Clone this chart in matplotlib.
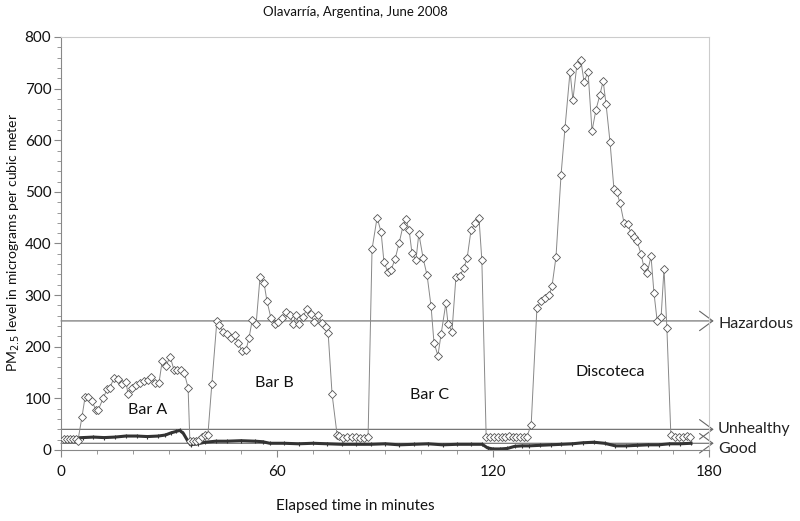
import matplotlib
matplotlib.use("Agg")
import matplotlib.pyplot as plt
from matplotlib.ticker import MultipleLocator

plt.rcParams['font.family'] = ['Lato', 'DejaVu Sans']

# Indoor PM2.5 readings (minutes, ug/m3)
indoor_t = [0.8, 1.7, 2.5, 3.3, 4.2, 4.7, 5.8, 6.7, 7.5, 8.6, 9.7, 10.3, 11.7, 12.8, 13.6, 14.7,
            15.8, 16.9, 18.1, 18.6, 19.7, 20.8, 21.9, 23.1, 24.2, 25.0, 26.1, 27.2, 28.1, 29.2,
            30.3, 31.4, 32.2, 33.3, 34.2, 35.3, 35.8, 36.7, 37.5, 38.3, 39.2, 40.0, 40.8, 41.9,
            43.3, 43.9, 45.0, 46.1, 47.2, 48.3, 49.2, 50.3, 51.4, 52.2, 53.1, 54.2, 55.3, 56.4,
            57.2, 58.3, 59.4, 60.3, 61.4, 62.5, 63.6, 64.4, 65.3, 66.1, 67.2, 68.3, 69.4, 70.3,
            71.4, 72.5, 73.6, 74.2, 75.3, 76.7, 77.2, 78.3, 79.4, 80.8, 81.9, 83.1, 84.2, 85.3,
            86.4, 87.8, 88.9, 89.7, 90.8, 91.7, 92.8, 93.9, 95.0, 95.8, 96.7, 97.5, 98.6, 99.4,
            100.6, 101.7, 102.8, 103.6, 104.7, 105.6, 106.9, 107.5, 108.6, 109.7, 110.8, 111.9,
            112.8, 113.9, 115.0, 116.1, 116.9, 118.1, 119.2, 120.3, 121.4, 122.5, 123.3, 124.4,
            125.6, 126.4, 127.5, 128.6, 129.4, 130.6, 132.2, 133.3, 134.4, 135.6, 136.4, 137.5,
            138.9, 140.0, 141.4, 142.2, 143.3, 144.4, 145.3, 146.4, 147.5, 148.6, 149.7, 150.6,
            151.4, 152.5, 153.6, 154.4, 155.3, 156.4, 157.5, 158.3, 159.2, 160.0, 161.1, 161.9,
            162.8, 163.9, 164.7, 165.6, 166.7, 167.5, 168.3, 169.4, 170.6, 171.7, 172.8, 173.9,
            174.7]
indoor_v = [21, 21, 21, 21, 21, 18, 63, 103, 102, 95, 77, 77, 100, 118, 121, 139,
            138, 127, 131, 108, 121, 126, 130, 134, 136, 141, 129, 129, 172, 163,
            181, 155, 155, 154, 150, 121, 17, 18, 17, 19, 25, 29, 29, 128,
            250, 242, 229, 225, 216, 222, 208, 191, 194, 216, 251, 244, 336, 323,
            289, 256, 244, 247, 255, 268, 262, 244, 262, 244, 258, 273, 263, 247,
            262, 246, 239, 227, 108, 29, 28, 24, 25, 26, 25, 23, 23, 26,
            389, 450, 423, 365, 344, 349, 370, 400, 434, 447, 426, 381, 368, 419,
            371, 338, 278, 208, 183, 225, 284, 245, 229, 335, 337, 353,
            371, 426, 439, 450, 368, 26, 26, 26, 26, 26, 26, 27,
            25, 25, 25, 26, 26, 48, 275, 289, 295, 300, 318, 374,
            533, 624, 733, 678, 746, 755, 713, 733, 618, 659, 688, 715,
            670, 597, 505, 499, 478, 440, 437, 420, 412, 405, 380, 355,
            342, 375, 305, 250, 258, 351, 236, 30, 26, 25, 26, 27,
            25]

# Reference (outdoor) readings
outdoor_t = [0.5, 3, 6, 9, 12, 15, 18, 21, 24, 27, 29, 30.5, 32, 33, 34, 35, 36, 38, 40, 43, 46,
             50, 54, 56, 58, 62, 66, 70, 74, 78, 82, 86, 90, 94, 98, 102, 106, 110, 114, 117,
             118.5, 120, 122, 124, 126, 128, 130, 133, 136, 139, 142, 145, 148, 151, 154, 157,
             160, 163, 166, 169, 172, 175]
outdoor_v = [20, 23, 24, 25, 24, 25, 27, 27, 26, 27, 29, 33, 36, 38, 32, 20, 10, 12, 15, 17, 17,
             18, 17, 16, 13, 13, 12, 13, 12, 11, 11, 11, 12, 10, 11, 12, 10, 11, 11, 11,
             4, 2, 2, 3, 7, 8, 8, 9, 10, 11, 12, 14, 15, 13, 8, 8,
             9, 10, 10, 12, 12, 13]

levels = [250, 40, 13]
level_names = ["Hazardous", "Unhealthy", "Good"]
level_label_y = [245, 40, 2]

venues = ["Bar A", "Bar B", "Bar C", "Discoteca"]
venue_x = [24.2, 59.4, 102.5, 152.5]
venue_y = [77, 130, 107, 151]

x_ticks = [0, 60, 120, 180]
y_ticks = [0, 100, 200, 300, 400, 500, 600, 700, 800]

fig = plt.figure(figsize=(8, 5.21), dpi=100)
ax = fig.add_axes([0.07625, 0.1363, 0.81, 0.7927])

ax.set_xlim(0, 180)
ax.set_ylim(0, 800)

# category lines with open arrowheads
for lv in levels:
    ax.annotate('', xy=(181.3, lv), xytext=(0, lv), xycoords='data',
                arrowprops=dict(arrowstyle='->,head_length=0.95,head_width=0.7',
                                color='#666666', lw=0.8, shrinkA=0, shrinkB=0),
                annotation_clip=False, zorder=1)
for name, ly in zip(level_names, level_label_y):
    ax.text(182.5, ly, name, fontsize=11.5, va='center', ha='left', color='#222222',
            clip_on=False)

ax.plot(outdoor_t, outdoor_v, color='#333333', lw=2.2, marker='|', markersize=3,
        markeredgewidth=0.8, zorder=2)
ax.plot(indoor_t, indoor_v, color='#888888', lw=0.7, marker='D', markersize=4.2,
        markerfacecolor='white', markeredgecolor='#555555', markeredgewidth=0.6, zorder=3)

for name, vx, vy in zip(venues, venue_x, venue_y):
    ax.text(vx, vy, name, fontsize=11.5, ha='center', va='center', color='#111111')

ax.set_xticks(x_ticks)
ax.set_yticks(y_ticks)
ax.xaxis.set_minor_locator(MultipleLocator(10))
ax.yaxis.set_minor_locator(MultipleLocator(20))
ax.tick_params(axis='both', which='major', direction='out', length=5, width=0.8,
               colors='#888888', labelcolor='#111111', labelsize=11)
ax.tick_params(axis='y', which='major', pad=2)
ax.tick_params(axis='both', which='minor', direction='out', length=3, width=0.6,
               colors='#888888')
ax.tick_params(axis='x', pad=6)

for s in ['left', 'bottom']:
    ax.spines[s].set_color('#888888')
    ax.spines[s].set_linewidth(0.8)
for s in ['top', 'right']:
    ax.spines[s].set_color('#cccccc')
    ax.spines[s].set_linewidth(0.8)

fig.text(0.017, 0.535, r"PM$_{2.5}$ level in micrograms per cubic meter", fontsize=10,
         color='#111111', rotation=90, ha='center', va='center')
fig.text(0.444, 0.016, "Elapsed time in minutes", fontsize=11, ha='center', va='bottom',
         color='#111111')
fig.text(0.444, 0.977, "Olavarría, Argentina, June 2008", fontsize=9.5, ha='center', va='center',
         color='#111111')

fig.savefig("out.png", dpi=100)
